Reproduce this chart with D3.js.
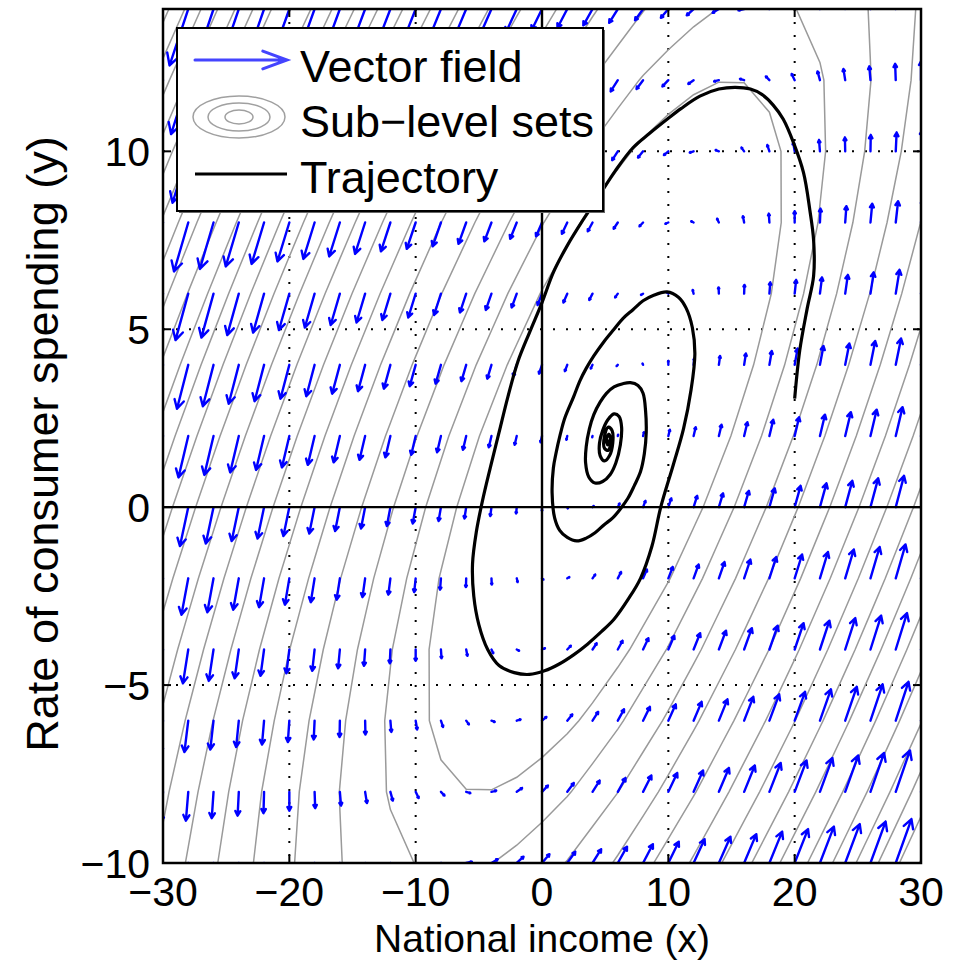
<!DOCTYPE html>
<html>
<head>
<meta charset="utf-8">
<script src="https://cdn.jsdelivr.net/npm/d3@7"></script>
<style>
  body { margin: 0; background: #fff; }
  svg text { font-family: "Liberation Sans", Arial, Helvetica, sans-serif; fill: #000; }
</style>
</head>
<body>
<svg id="chart" width="976" height="967"></svg>
<script>
// ---- data ---------------------------------------------------------------
// quiver grid (national income x, consumer spending y)
const gridX = [-30,-28,-26,-24,-22,-20,-18,-16,-14,-12,-10,-8,-6,-4,-2,0,2,4,6,8,10,12,14,16,18,20,22,24,26,28,30];
const gridY = [14,12,10,8,6,4,2,0,-2,-4,-6,-8,-10];

// vector field, one row per gridY value (x component)
const fieldU = [
  [-65,-63,-61,-59,-57,-55,-53,-51,-49,-47,-45,-43,-41,-39,-37,-35,-33,-31,-29,-27,-25,-23,-21,-19,-17,-15,-13,-11,-9,-7,-5],
  [-60,-58,-56,-54,-52,-50,-48,-46,-44,-42,-40,-38,-36,-34,-32,-30,-28,-26,-24,-22,-20,-18,-16,-14,-12,-10,-8,-6,-4,-2,0],
  [-55,-53,-51,-49,-47,-45,-43,-41,-39,-37,-35,-33,-31,-29,-27,-25,-23,-21,-19,-17,-15,-13,-11,-9,-7,-5,-3,-1,1,3,5],
  [-50,-48,-46,-44,-42,-40,-38,-36,-34,-32,-30,-28,-26,-24,-22,-20,-18,-16,-14,-12,-10,-8,-6,-4,-2,0,2,4,6,8,10],
  [-45,-43,-41,-39,-37,-35,-33,-31,-29,-27,-25,-23,-21,-19,-17,-15,-13,-11,-9,-7,-5,-3,-1,1,3,5,7,9,11,13,15],
  [-40,-38,-36,-34,-32,-30,-28,-26,-24,-22,-20,-18,-16,-14,-12,-10,-8,-6,-4,-2,0,2,4,6,8,10,12,14,16,18,20],
  [-35,-33,-31,-29,-27,-25,-23,-21,-19,-17,-15,-13,-11,-9,-7,-5,-3,-1,1,3,5,7,9,11,13,15,17,19,21,23,25],
  [-30,-28,-26,-24,-22,-20,-18,-16,-14,-12,-10,-8,-6,-4,-2,0,2,4,6,8,10,12,14,16,18,20,22,24,26,28,30],
  [-25,-23,-21,-19,-17,-15,-13,-11,-9,-7,-5,-3,-1,1,3,5,7,9,11,13,15,17,19,21,23,25,27,29,31,33,35],
  [-20,-18,-16,-14,-12,-10,-8,-6,-4,-2,0,2,4,6,8,10,12,14,16,18,20,22,24,26,28,30,32,34,36,38,40],
  [-15,-13,-11,-9,-7,-5,-3,-1,1,3,5,7,9,11,13,15,17,19,21,23,25,27,29,31,33,35,37,39,41,43,45],
  [-10,-8,-6,-4,-2,0,2,4,6,8,10,12,14,16,18,20,22,24,26,28,30,32,34,36,38,40,42,44,46,48,50],
  [-5,-3,-1,1,3,5,7,9,11,13,15,17,19,21,23,25,27,29,31,33,35,37,39,41,43,45,47,49,51,53,55]
];
// vector field, y component
const fieldV = [
  [-70.5,-67.5,-64.5,-61.5,-58.5,-55.5,-52.5,-49.5,-46.5,-43.5,-40.5,-37.5,-34.5,-31.5,-28.5,-25.5,-22.5,-19.5,-16.5,-13.5,-10.5,-7.5,-4.5,-1.5,1.5,4.5,7.5,10.5,13.5,16.5,19.5],
  [-67.5,-64.5,-61.5,-58.5,-55.5,-52.5,-49.5,-46.5,-43.5,-40.5,-37.5,-34.5,-31.5,-28.5,-25.5,-22.5,-19.5,-16.5,-13.5,-10.5,-7.5,-4.5,-1.5,1.5,4.5,7.5,10.5,13.5,16.5,19.5,22.5],
  [-64.5,-61.5,-58.5,-55.5,-52.5,-49.5,-46.5,-43.5,-40.5,-37.5,-34.5,-31.5,-28.5,-25.5,-22.5,-19.5,-16.5,-13.5,-10.5,-7.5,-4.5,-1.5,1.5,4.5,7.5,10.5,13.5,16.5,19.5,22.5,25.5],
  [-61.5,-58.5,-55.5,-52.5,-49.5,-46.5,-43.5,-40.5,-37.5,-34.5,-31.5,-28.5,-25.5,-22.5,-19.5,-16.5,-13.5,-10.5,-7.5,-4.5,-1.5,1.5,4.5,7.5,10.5,13.5,16.5,19.5,22.5,25.5,28.5],
  [-58.5,-55.5,-52.5,-49.5,-46.5,-43.5,-40.5,-37.5,-34.5,-31.5,-28.5,-25.5,-22.5,-19.5,-16.5,-13.5,-10.5,-7.5,-4.5,-1.5,1.5,4.5,7.5,10.5,13.5,16.5,19.5,22.5,25.5,28.5,31.5],
  [-55.5,-52.5,-49.5,-46.5,-43.5,-40.5,-37.5,-34.5,-31.5,-28.5,-25.5,-22.5,-19.5,-16.5,-13.5,-10.5,-7.5,-4.5,-1.5,1.5,4.5,7.5,10.5,13.5,16.5,19.5,22.5,25.5,28.5,31.5,34.5],
  [-52.5,-49.5,-46.5,-43.5,-40.5,-37.5,-34.5,-31.5,-28.5,-25.5,-22.5,-19.5,-16.5,-13.5,-10.5,-7.5,-4.5,-1.5,1.5,4.5,7.5,10.5,13.5,16.5,19.5,22.5,25.5,28.5,31.5,34.5,37.5],
  [-49.5,-46.5,-43.5,-40.5,-37.5,-34.5,-31.5,-28.5,-25.5,-22.5,-19.5,-16.5,-13.5,-10.5,-7.5,-4.5,-1.5,1.5,4.5,7.5,10.5,13.5,16.5,19.5,22.5,25.5,28.5,31.5,34.5,37.5,40.5],
  [-46.5,-43.5,-40.5,-37.5,-34.5,-31.5,-28.5,-25.5,-22.5,-19.5,-16.5,-13.5,-10.5,-7.5,-4.5,-1.5,1.5,4.5,7.5,10.5,13.5,16.5,19.5,22.5,25.5,28.5,31.5,34.5,37.5,40.5,43.5],
  [-43.5,-40.5,-37.5,-34.5,-31.5,-28.5,-25.5,-22.5,-19.5,-16.5,-13.5,-10.5,-7.5,-4.5,-1.5,1.5,4.5,7.5,10.5,13.5,16.5,19.5,22.5,25.5,28.5,31.5,34.5,37.5,40.5,43.5,46.5],
  [-40.5,-37.5,-34.5,-31.5,-28.5,-25.5,-22.5,-19.5,-16.5,-13.5,-10.5,-7.5,-4.5,-1.5,1.5,4.5,7.5,10.5,13.5,16.5,19.5,22.5,25.5,28.5,31.5,34.5,37.5,40.5,43.5,46.5,49.5],
  [-37.5,-34.5,-31.5,-28.5,-25.5,-22.5,-19.5,-16.5,-13.5,-10.5,-7.5,-4.5,-1.5,1.5,4.5,7.5,10.5,13.5,16.5,19.5,22.5,25.5,28.5,31.5,34.5,37.5,40.5,43.5,46.5,49.5,52.5],
  [-34.5,-31.5,-28.5,-25.5,-22.5,-19.5,-16.5,-13.5,-10.5,-7.5,-4.5,-1.5,1.5,4.5,7.5,10.5,13.5,16.5,19.5,22.5,25.5,28.5,31.5,34.5,37.5,40.5,43.5,46.5,49.5,52.5,55.5]
];

// Lyapunov function sampled on the same grid (rows = gridY)
const levelGrid = [
  [2353,2169,1993,1825,1665,1513,1369,1233,1105,985,873,769,673,585,505,433,369,313,265,225,193,169,153,145,145,153,169,193,225,265,313],
  [2125,1949,1781,1621,1469,1325,1189,1061,941,829,725,629,541,461,389,325,269,221,181,149,125,109,101,101,109,125,149,181,221,269,325],
  [1913,1745,1585,1433,1289,1153,1025,905,793,689,593,505,425,353,289,233,185,145,113,89,73,65,65,73,89,113,145,185,233,289,353],
  [1717,1557,1405,1261,1125,997,877,765,661,565,477,397,325,261,205,157,117,85,61,45,37,37,45,61,85,117,157,205,261,325,397],
  [1537,1385,1241,1105,977,857,745,641,545,457,377,305,241,185,137,97,65,41,25,17,17,25,41,65,97,137,185,241,305,377,457],
  [1373,1229,1093,965,845,733,629,533,445,365,293,229,173,125,85,53,29,13,5,5,13,29,53,85,125,173,229,293,365,445,533],
  [1225,1089,961,841,729,625,529,441,361,289,225,169,121,81,49,25,9,1,1,9,25,49,81,121,169,225,289,361,441,529,625],
  [1093,965,845,733,629,533,445,365,293,229,173,125,85,53,29,13,5,5,13,29,53,85,125,173,229,293,365,445,533,629,733],
  [977,857,745,641,545,457,377,305,241,185,137,97,65,41,25,17,17,25,41,65,97,137,185,241,305,377,457,545,641,745,857],
  [877,765,661,565,477,397,325,261,205,157,117,85,61,45,37,37,45,61,85,117,157,205,261,325,397,477,565,661,765,877,997],
  [793,689,593,505,425,353,289,233,185,145,113,89,73,65,65,73,89,113,145,185,233,289,353,425,505,593,689,793,905,1025,1153],
  [725,629,541,461,389,325,269,221,181,149,125,109,101,101,109,125,149,181,221,269,325,389,461,541,629,725,829,941,1061,1189,1325],
  [673,585,505,433,369,313,265,225,193,169,153,145,145,153,169,193,225,265,313,369,433,505,585,673,769,873,985,1105,1233,1369,1513]
];
const subLevels = [100,154,222,303,396,493,595,702,812,930,1045,1160,1275,1390,1505,1620,1735,1850,1965,2080,2195,2310];

// trajectory, starting at (20, 3)
const trajectory = [
  [20,3.05],[20.4,4.4],[21,5.6],[21.5,6.5],[21.5,7.5],[21.2,8.35],[20.7,9.4],[19.9,10.25],[19.1,10.9],[18.3,11.3],
  [17.4,11.6],[16.5,11.75],[15.3,11.8],[14,11.75],[12.5,11.55],[11,11.2],[9.9,10.9],[8.5,10.5],[7.2,10.1],[5.8,9.45],
  [4.6,8.8],[3.3,8.1],[2,7.35],[0.9,6.6],[0,5.75],[-1,4.9],[-1.9,4.1],[-2.7,3.1],[-3.4,2.1],[-4.1,1.1],
  [-4.7,0.2],[-5.2,-0.7],[-5.5,-1.6],[-5.4,-2.5],[-5,-3.3],[-4.3,-4],[-3.4,-4.45],[-2.2,-4.65],[-1,-4.7],[0.2,-4.6],
  [1.4,-4.4],[2.5,-4.15],[3.6,-3.85],[4.7,-3.5],[5.7,-3.15],[6.8,-2.6],[7.8,-2],[8.7,-1.1],[9.4,0],[10.4,1.2],
  [11.2,2.2],[11.8,3.3],[12.1,4.3],[11.9,5.05],[11.4,5.6],[10.8,5.9],[9.9,6.05],[8.8,5.95],[8,5.8],[7.2,5.55],
  [6.4,5.3],[5.7,5],[4.9,4.65],[4.1,4.25],[3.5,3.9],[3,3.55],[2.5,3.1],[1.8,2.5],[1.45,2.05],[1.1,1.5],
  [0.9,1.1],[0.8,0.4],[1,-0.3],[1.4,-0.65],[2,-0.85],[2.75,-0.95],[3.5,-0.87],[4.2,-0.72],[4.9,-0.5],[5.6,-0.3],
  [6.2,-0.05],[6.8,0.25],[7.3,0.6],[7.8,1],[8.1,1.5],[8.25,2.1],[8.2,2.7],[8,3.2],[7.6,3.42],[7,3.5],
  [6.4,3.47],[5.7,3.38],[5.1,3.2],[4.6,2.95],[4.1,2.6],[3.75,2.2],[3.5,1.7],[3.45,1.25],[3.7,0.85],[4.2,0.68],
  [4.8,0.72],[5.4,0.92],[5.85,1.25],[6.2,1.75],[6.3,2.25],[6.1,2.55],[5.7,2.62],[5.2,2.45],[4.8,2.15],[4.55,1.8],
  [4.6,1.45],[4.95,1.3],[5.35,1.45],[5.6,1.8],[5.55,2.15],[5.25,2.25],[4.95,2],[4.95,1.65],[5.25,1.6],[5.45,1.85],
  [5.3,2.05],[5.1,1.9],[5.2,1.75],[5.3,1.88],[5.25,1.9]
];

const xTicks = [-30,-20,-10,0,10,20,30];
const yTicks = [-10,-5,0,5,10];
const xGrid = [-20,-10,10,20];
const yGrid = [-5,5,10];
const legendItems = ['Vector field', 'Sub\u2212level sets', 'Trajectory'];

// ---- layout -------------------------------------------------------------
const box = { left: 163, right: 921, top: 9, bottom: 863 };
const arrowScale = 0.0235;   // quiver scale, data units per field unit
const blue = '#0000ff';

const svg = d3.select('#chart');
const x = d3.scaleLinear().domain([-30, 30]).range([box.left, box.right]);
const y = d3.scaleLinear().domain([-10, 14]).range([box.bottom, box.top]);
const fmt = d => String(d).replace('-', '\u2212');

svg.append('defs').append('clipPath').attr('id', 'plot-clip')
  .append('rect')
  .attr('x', box.left).attr('y', box.top)
  .attr('width', box.right - box.left).attr('height', box.bottom - box.top);

const plot = svg.append('g').attr('clip-path', 'url(#plot-clip)');

// dotted grid
plot.selectAll('.grid-x')
  .data(xGrid)
  .join('line')
    .attr('x1', d => x(d)).attr('x2', d => x(d))
    .attr('y1', box.top).attr('y2', box.bottom)
    .attr('stroke', '#000').attr('stroke-width', 2)
    .attr('stroke-dasharray', '2 11');
plot.selectAll('.grid-y')
  .data(yGrid)
  .join('line')
    .attr('y1', d => y(d)).attr('y2', d => y(d))
    .attr('x1', box.left).attr('x2', box.right)
    .attr('stroke', '#000').attr('stroke-width', 2)
    .attr('stroke-dasharray', '2 11');

// sub-level sets via marching squares on the quiver grid
const nx = gridX.length, ny = gridY.length;
const contours = d3.contours().size([nx, ny]).thresholds(subLevels)(levelGrid.flat());
const gx = d3.scaleLinear().domain([0.5, nx - 0.5]).range([gridX[0], gridX[nx - 1]]);
const gy = d3.scaleLinear().domain([0.5, ny - 0.5]).range([gridY[0], gridY[ny - 1]]);
const toScreen = d3.geoTransform({
  point: function (px, py) { this.stream.point(x(gx(px)), y(gy(py))); }
});
plot.selectAll('.level')
  .data(contours)
  .join('path')
    .attr('class', 'level')
    .attr('d', d3.geoPath(toScreen))
    .attr('fill', 'none')
    .attr('stroke', '#9a9a9a')
    .attr('stroke-width', 1.5);

// quiver
const arrows = [];
gridY.forEach((yv, j) => gridX.forEach((xv, i) => {
  arrows.push({ x0: xv, y0: yv, u: fieldU[j][i], v: fieldV[j][i] });
}));
function arrowPath(x1, y1, x2, y2, headFrac, headAngle) {
  const dx = x2 - x1, dy = y2 - y1, len = Math.hypot(dx, dy);
  if (len < 0.3) return `M${x1},${y1}L${x1 + 0.5},${y1}`;
  const ux = dx / len, uy = dy / len, h = len * headFrac;
  const c = Math.cos(headAngle), s = Math.sin(headAngle);
  const hx1 = x2 - h * (ux * c - uy * s), hy1 = y2 - h * (uy * c + ux * s);
  const hx2 = x2 - h * (ux * c + uy * s), hy2 = y2 - h * (uy * c - ux * s);
  return `M${x1},${y1}L${x2},${y2}M${hx1},${hy1}L${x2},${y2}L${hx2},${hy2}`;
}
plot.selectAll('.arrow')
  .data(arrows)
  .join('path')
    .attr('class', 'arrow')
    .attr('d', d => arrowPath(x(d.x0), y(d.y0),
      x(d.x0 + arrowScale * d.u), y(d.y0 + arrowScale * d.v), 0.22, 0.5))
    .attr('fill', 'none')
    .attr('stroke', blue)
    .attr('stroke-width', 2.4)
    .attr('stroke-linecap', 'round')
    .attr('stroke-linejoin', 'round');

// x = 0 and y = 0 lines
plot.append('line')
  .attr('x1', x(0)).attr('x2', x(0)).attr('y1', box.top).attr('y2', box.bottom)
  .attr('stroke', '#000').attr('stroke-width', 2.4);
plot.append('line')
  .attr('y1', y(0)).attr('y2', y(0)).attr('x1', box.left).attr('x2', box.right)
  .attr('stroke', '#000').attr('stroke-width', 2.4);

// trajectory
plot.append('path')
  .datum(trajectory)
  .attr('d', d3.line().x(d => x(d[0])).y(d => y(d[1])).curve(d3.curveCatmullRom.alpha(0.5)))
  .attr('fill', 'none')
  .attr('stroke', '#000')
  .attr('stroke-width', 3.2)
  .attr('stroke-linejoin', 'round');

// frame and ticks
svg.append('rect')
  .attr('x', box.left).attr('y', box.top)
  .attr('width', box.right - box.left).attr('height', box.bottom - box.top)
  .attr('fill', 'none').attr('stroke', '#000').attr('stroke-width', 2.5);

const tickLen = 8;
xTicks.forEach(t => {
  svg.append('line').attr('x1', x(t)).attr('x2', x(t)).attr('y1', box.bottom).attr('y2', box.bottom - tickLen)
    .attr('stroke', '#000').attr('stroke-width', 2);
  svg.append('line').attr('x1', x(t)).attr('x2', x(t)).attr('y1', box.top).attr('y2', box.top + tickLen)
    .attr('stroke', '#000').attr('stroke-width', 2);
});
yTicks.forEach(t => {
  svg.append('line').attr('y1', y(t)).attr('y2', y(t)).attr('x1', box.left).attr('x2', box.left + tickLen)
    .attr('stroke', '#000').attr('stroke-width', 2);
  svg.append('line').attr('y1', y(t)).attr('y2', y(t)).attr('x1', box.right).attr('x2', box.right - tickLen)
    .attr('stroke', '#000').attr('stroke-width', 2);
});

const tickFont = 41;
svg.selectAll('.xtick')
  .data(xTicks)
  .join('text')
    .attr('x', d => x(d)).attr('y', 906)
    .attr('text-anchor', 'middle')
    .style('font-size', tickFont + 'px')
    .text(fmt);
svg.selectAll('.ytick')
  .data(yTicks)
  .join('text')
    .attr('x', 150).attr('y', d => y(d)).attr('dy', '0.36em')
    .attr('text-anchor', 'end')
    .style('font-size', tickFont + 'px')
    .text(fmt);

svg.append('text')
  .attr('x', x(0)).attr('y', 952)
  .attr('text-anchor', 'middle')
  .style('font-size', '39px')
  .text('National income (x)');
svg.append('text')
  .attr('transform', 'translate(58,444) rotate(-90)')
  .attr('text-anchor', 'middle')
  .style('font-size', '45px')
  .text('Rate of consumer spending (y)');

// legend
const lg = svg.append('g');
lg.append('rect')
  .attr('x', 179).attr('y', 30).attr('width', 426).attr('height', 183)
  .attr('fill', '#666');
lg.append('rect')
  .attr('x', 177).attr('y', 28).attr('width', 426).attr('height', 183)
  .attr('fill', '#fff').attr('stroke', '#000').attr('stroke-width', 2);
lg.append('path')
  .attr('d', arrowPath(195, 60, 287, 60, 0.28, 0.35))
  .attr('fill', 'none').attr('stroke', '#4444ff').attr('stroke-width', 3)
  .attr('stroke-linecap', 'round');
[[46, 21], [31, 14], [14, 7]].forEach(r => {
  lg.append('ellipse')
    .attr('cx', 239).attr('cy', 117).attr('rx', r[0]).attr('ry', r[1])
    .attr('fill', 'none').attr('stroke', '#a0a0a0').attr('stroke-width', 1.5);
});
lg.append('line')
  .attr('x1', 195).attr('x2', 287).attr('y1', 174).attr('y2', 174)
  .attr('stroke', '#000').attr('stroke-width', 3);
lg.selectAll('.legend-label')
  .data(legendItems)
  .join('text')
    .attr('x', 300)
    .attr('y', (d, i) => [82, 137, 193][i])
    .style('font-size', '45px')
    .text(d => d);
</script>
</body>
</html>
